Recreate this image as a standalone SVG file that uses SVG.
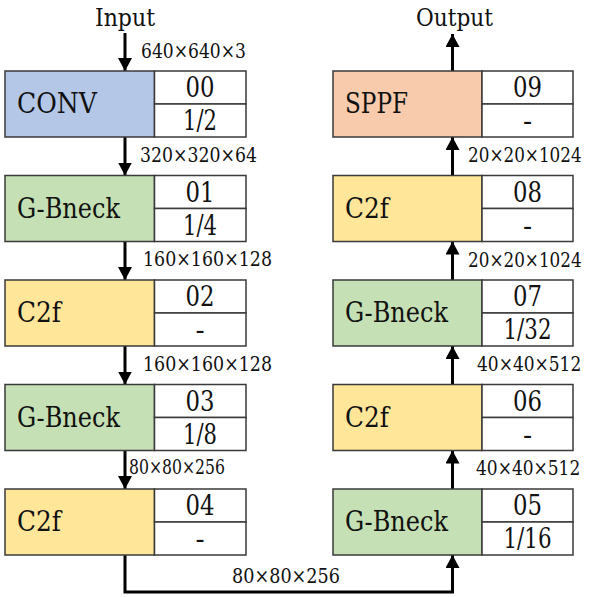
<svg xmlns="http://www.w3.org/2000/svg" width="590" height="597" viewBox="0 0 590 597">
<style>
text{font-family:'DejaVu Serif','Liberation Serif',serif;fill:#111}
.lbl{font-size:27px}
.num{font-size:27px;text-anchor:middle}
.dim{font-size:20.5px}
.io{font-size:25px}
.box{stroke:#3a3a3a;stroke-width:1.5}
.cell{fill:#fff;stroke:#3a3a3a;stroke-width:1.5}
.conv{fill:#B4C7E7}.gb{fill:#C5E0B4}.c2f{fill:#FFE699}.sppf{fill:#F8CBAD}
.con{fill:none;stroke:#000;stroke-width:3;marker-end:url(#ah)}
</style>
<defs>
<marker id="ah" markerUnits="userSpaceOnUse" markerWidth="14" markerHeight="14" viewBox="0 0 14 14" refX="13" refY="7" orient="auto">
<path d="M0,0 L13,7 L0,14 Z" fill="#000"/>
</marker>
</defs>
<text class="io" x="95" y="26" textLength="60" lengthAdjust="spacingAndGlyphs">Input</text>
<text class="io" x="416" y="26" textLength="77" lengthAdjust="spacingAndGlyphs">Output</text>
<g id="connectors">
<path class="con" d="M125,33 V71"/>
<path class="con" d="M125,137 V175.5"/>
<path class="con" d="M125,241.5 V280"/>
<path class="con" d="M125,346 V384.5"/>
<path class="con" d="M125,450.5 V489"/>
<path class="con" d="M125,555 V592 H452.5 V555"/>
<path class="con" d="M452.5,489 V450.5"/>
<path class="con" d="M452.5,384.5 V346"/>
<path class="con" d="M452.5,280 V241.5"/>
<path class="con" d="M452.5,175.5 V137"/>
<path class="con" d="M452.5,71 V34"/>
</g>
<g id="dims">
<text class="dim" x="141" y="58" textLength="105" lengthAdjust="spacingAndGlyphs">640×640×3</text>
<text class="dim" x="140" y="162" textLength="117" lengthAdjust="spacingAndGlyphs">320×320×64</text>
<text class="dim" x="143" y="266" textLength="129" lengthAdjust="spacingAndGlyphs">160×160×128</text>
<text class="dim" x="143" y="371" textLength="129" lengthAdjust="spacingAndGlyphs">160×160×128</text>
<text class="dim" x="129" y="474" textLength="96" lengthAdjust="spacingAndGlyphs">80×80×256</text>
<text class="dim" x="232" y="583" textLength="108" lengthAdjust="spacingAndGlyphs">80×80×256</text>
<text class="dim" transform="translate(468,162) scale(0.82,1)">20×20×1024</text>
<text class="dim" transform="translate(468,267) scale(0.82,1)">20×20×1024</text>
<text class="dim" transform="translate(477,371) scale(0.83,1)">40×40×512</text>
<text class="dim" transform="translate(476,475) scale(0.83,1)">40×40×512</text>
</g>
<g id="n00">
<rect class="box conv" x="5" y="71" width="149.5" height="66"/>
<rect class="cell" x="154.5" y="71" width="91.5" height="33"/>
<rect class="cell" x="154.5" y="104" width="91.5" height="33"/>
<text class="lbl" x="17" y="113" textLength="80" lengthAdjust="spacingAndGlyphs">CONV</text>
<text class="num" x="200" y="97" textLength="29" lengthAdjust="spacingAndGlyphs">00</text>
<text class="num" x="200" y="130" textLength="34" lengthAdjust="spacingAndGlyphs">1/2</text>
</g>
<g id="n01">
<rect class="box gb" x="5" y="175.5" width="149.5" height="66"/>
<rect class="cell" x="154.5" y="175.5" width="91.5" height="33"/>
<rect class="cell" x="154.5" y="208.5" width="91.5" height="33"/>
<text class="lbl" x="17" y="217.5" textLength="103" lengthAdjust="spacingAndGlyphs">G-Bneck</text>
<text class="num" x="200" y="201.5" textLength="29" lengthAdjust="spacingAndGlyphs">01</text>
<text class="num" x="200" y="234.5" textLength="34" lengthAdjust="spacingAndGlyphs">1/4</text>
</g>
<g id="n02">
<rect class="box c2f" x="5" y="280" width="149.5" height="66"/>
<rect class="cell" x="154.5" y="280" width="91.5" height="33"/>
<rect class="cell" x="154.5" y="313" width="91.5" height="33"/>
<text class="lbl" x="17" y="322" textLength="44" lengthAdjust="spacingAndGlyphs">C2f</text>
<text class="num" x="200" y="306" textLength="29" lengthAdjust="spacingAndGlyphs">02</text>
<text class="num" x="200" y="339">-</text>
</g>
<g id="n03">
<rect class="box gb" x="5" y="384.5" width="149.5" height="66"/>
<rect class="cell" x="154.5" y="384.5" width="91.5" height="33"/>
<rect class="cell" x="154.5" y="417.5" width="91.5" height="33"/>
<text class="lbl" x="17" y="426.5" textLength="103" lengthAdjust="spacingAndGlyphs">G-Bneck</text>
<text class="num" x="200" y="410.5" textLength="29" lengthAdjust="spacingAndGlyphs">03</text>
<text class="num" x="200" y="443.5" textLength="34" lengthAdjust="spacingAndGlyphs">1/8</text>
</g>
<g id="n04">
<rect class="box c2f" x="5" y="489" width="149.5" height="66"/>
<rect class="cell" x="154.5" y="489" width="91.5" height="33"/>
<rect class="cell" x="154.5" y="522" width="91.5" height="33"/>
<text class="lbl" x="17" y="531" textLength="44" lengthAdjust="spacingAndGlyphs">C2f</text>
<text class="num" x="200" y="515" textLength="29" lengthAdjust="spacingAndGlyphs">04</text>
<text class="num" x="200" y="548">-</text>
</g>
<g id="n05">
<rect class="box gb" x="333" y="489" width="149" height="66"/>
<rect class="cell" x="482" y="489" width="91" height="33"/>
<rect class="cell" x="482" y="522" width="91" height="33"/>
<text class="lbl" x="345" y="531" textLength="103" lengthAdjust="spacingAndGlyphs">G-Bneck</text>
<text class="num" x="527.5" y="515" textLength="29" lengthAdjust="spacingAndGlyphs">05</text>
<text class="num" x="527.5" y="548" textLength="48" lengthAdjust="spacingAndGlyphs">1/16</text>
</g>
<g id="n06">
<rect class="box c2f" x="333" y="384.5" width="149" height="66"/>
<rect class="cell" x="482" y="384.5" width="91" height="33"/>
<rect class="cell" x="482" y="417.5" width="91" height="33"/>
<text class="lbl" x="345" y="426.5" textLength="44" lengthAdjust="spacingAndGlyphs">C2f</text>
<text class="num" x="527.5" y="410.5" textLength="29" lengthAdjust="spacingAndGlyphs">06</text>
<text class="num" x="527.5" y="443.5">-</text>
</g>
<g id="n07">
<rect class="box gb" x="333" y="280" width="149" height="66"/>
<rect class="cell" x="482" y="280" width="91" height="33"/>
<rect class="cell" x="482" y="313" width="91" height="33"/>
<text class="lbl" x="345" y="322" textLength="103" lengthAdjust="spacingAndGlyphs">G-Bneck</text>
<text class="num" x="527.5" y="306" textLength="29" lengthAdjust="spacingAndGlyphs">07</text>
<text class="num" x="527.5" y="339" textLength="48" lengthAdjust="spacingAndGlyphs">1/32</text>
</g>
<g id="n08">
<rect class="box c2f" x="333" y="175.5" width="149" height="66"/>
<rect class="cell" x="482" y="175.5" width="91" height="33"/>
<rect class="cell" x="482" y="208.5" width="91" height="33"/>
<text class="lbl" x="345" y="217.5" textLength="44" lengthAdjust="spacingAndGlyphs">C2f</text>
<text class="num" x="527.5" y="201.5" textLength="29" lengthAdjust="spacingAndGlyphs">08</text>
<text class="num" x="527.5" y="234.5">-</text>
</g>
<g id="n09">
<rect class="box sppf" x="333" y="71" width="149" height="66"/>
<rect class="cell" x="482" y="71" width="91" height="33"/>
<rect class="cell" x="482" y="104" width="91" height="33"/>
<text class="lbl" x="345" y="113" textLength="63" lengthAdjust="spacingAndGlyphs">SPPF</text>
<text class="num" x="527.5" y="97" textLength="29" lengthAdjust="spacingAndGlyphs">09</text>
<text class="num" x="527.5" y="130">-</text>
</g>
</svg>
